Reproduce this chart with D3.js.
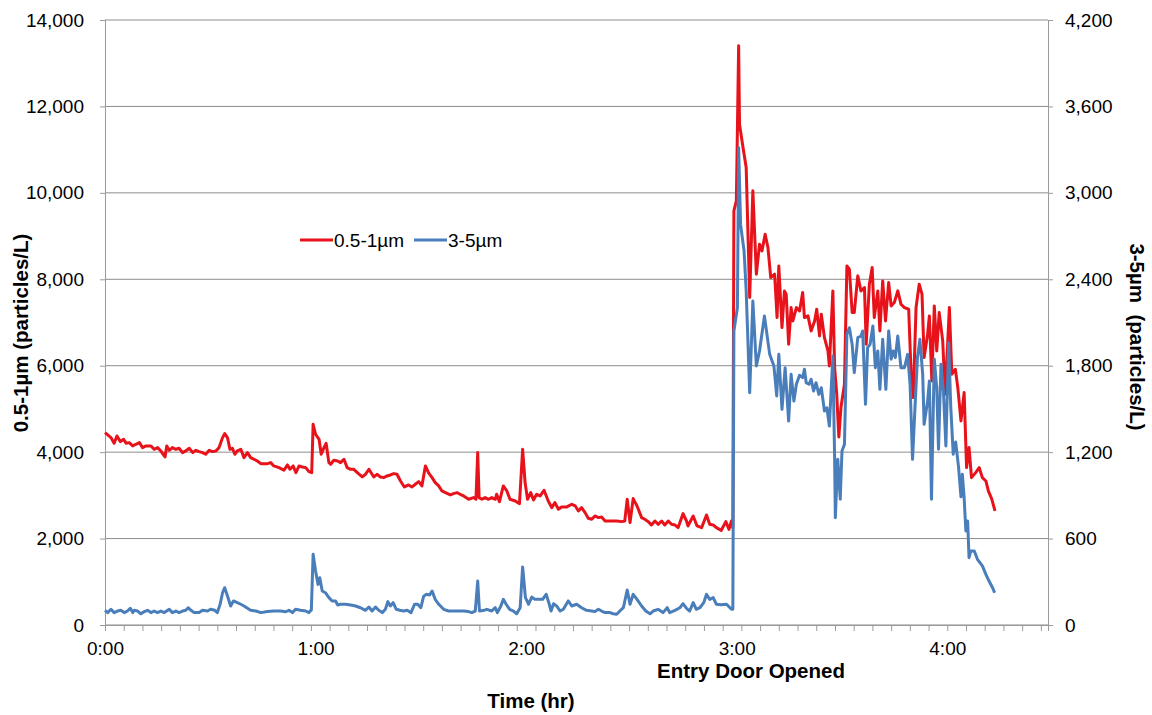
<!DOCTYPE html>
<html>
<head>
<meta charset="utf-8">
<script src="https://cdn.jsdelivr.net/npm/d3@7"></script>
<style>
  body { margin: 0; background: #fff; }
  svg { font-family: "Liberation Sans", Arial, sans-serif; }
</style>
</head>
<body>
<svg id="chart" width="1152" height="715"></svg>
<script>
// time in minutes since start, values in particles/L
const fineTimes = [0, 1.7, 2.6, 3.4, 4.4, 5.3, 6, 6.9, 7.9, 8.8, 9.8, 10.7, 11.7, 13.1, 14, 15, 15.9, 17.1, 17.6, 18.3,
  19.2, 20.2, 21.1, 22.1, 23, 24, 25, 25.9, 26.8, 27.8, 28.7, 29.7, 30.6, 31.6, 32.5, 33.5, 34.1, 34.9, 35.6, 36.3,
  37, 37.7, 38.7, 39.6, 40.6, 41.5, 42.5, 43.4, 44.4, 46.3, 47.2, 48.1, 49.6, 51, 52, 52.7, 53.6, 54.4, 55.3, 56.2,
  57.2, 58.1, 58.9, 59.3, 60, 61, 61.6, 62.4, 63, 63.8, 64.3, 65.2, 66.3, 67.1, 68.1, 69, 70, 70.9, 71.9, 73.3,
  74.2, 75.2, 76.1, 76.6, 77.5, 78.5, 79.4, 80.4, 81.3, 82.3, 83.2, 84.2, 85.3, 86.5, 87.5, 88.4, 89.4, 90.3, 91.3, 92.2,
  93.2, 94.1, 95.1, 96, 97, 98.4, 99.3, 100.3, 101.2, 102.2, 103.6, 105, 105.7, 106.2, 106.6, 107.4, 108.3, 109.3, 110.2, 111.2,
  111.6, 112.4, 113.5, 114.5, 115.4, 116.9, 118.1, 119, 119.7, 120.4, 121.3, 122.1, 123, 124, 125.1, 126.3, 127.3, 128.2, 129.2, 130.1,
  131.6, 133, 134, 134.9, 135.8, 136.8, 137.7, 138.7, 139.6, 140.6, 141.5, 142.5, 143.9, 145.8, 147.2, 148.1, 148.8, 149.6, 150.5, 151.6,
  152.9, 153.8, 154.8, 155.7, 156.7, 157.6, 158.6, 159.5, 160.5, 161.4, 162.4, 163.3, 164.7, 165.7, 166.1, 167.6, 168.7, 170, 171.4, 172.3,
  173.3, 174.2, 175.6, 176.9, 177.8, 178.5, 178.9, 179.2, 179.9, 180.55, 180.8, 181.8, 182.7, 183.7, 184.6, 185.6, 186.5, 187.2, 188.1, 188.9,
  189.7, 190.8, 191.5, 192, 192.9, 193.6, 194.1, 194.8, 195.5, 196, 197, 197.9, 198.8, 199.3, 200.3, 201.2, 202.2, 202.8, 203.6, 204.1,
  205, 206, 206.4, 207.4, 207.9, 208.5, 209.1, 209.7, 210.7, 211.4, 212.1, 212.9, 213.5, 214.5, 215.4, 216.4, 216.9, 217.8, 218.6, 219.2,
  220.2, 220.8, 221.6, 222.4, 223.3, 224, 224.9, 225.9, 226.8, 227.8, 229, 229.7, 230.3, 231.1, 232, 232.8, 233.4, 234.4, 234.9, 235.6,
  236.3, 237, 237.7, 238.7, 239.4, 240.6, 241.3, 242.3, 243, 243.9, 244.8, 245.5, 246.2, 246.9, 248.1, 249.1, 250, 251, 251.7, 252.7, 253.6];

const fineValues = [4450, 4336, 4205, 4375, 4244, 4298, 4205, 4220, 4144, 4182, 4220, 4105, 4144, 4144, 4066, 4105, 4028, 3889, 4144, 4043,
  4105, 4066, 4089, 3989, 4028, 4089, 3989, 4043, 4012, 3989, 3951, 4043, 4012, 4028, 4105, 4336, 4429, 4336, 4066, 4089,
  3951, 4028, 4066, 3873, 3989, 3873, 3835, 3796, 3734, 3734, 3758, 3681, 3642, 3580, 3704, 3603, 3681, 3526, 3681, 3657,
  3642, 3549, 3526, 4645, 4414, 4298, 3951, 4105, 4205, 3758, 3719, 3812, 3796, 3758, 3835, 3642, 3603, 3603, 3526, 3426,
  3488, 3603, 3488, 3426, 3488, 3426, 3410, 3449, 3472, 3503, 3488, 3333, 3194, 3241, 3194, 3256, 3318, 3218, 3681, 3520,
  3410, 3295, 3218, 3102, 3063, 3009, 3040, 3063, 3025, 2986, 2909, 2948, 2909, 3989, 2948, 2909, 2948, 2909, 2948, 2909,
  3025, 2855, 3218, 3102, 2909, 2870, 2809, 4066, 3295, 2909, 3063, 2894, 3025, 2986, 3118, 2870, 2716, 2832, 2678, 2732,
  2732, 2793, 2755, 2639, 2716, 2600, 2469, 2446, 2523, 2485, 2500, 2407, 2407, 2407, 2392, 2407, 2909, 2369, 2925, 2755,
  2485, 2446, 2392, 2315, 2407, 2330, 2407, 2315, 2407, 2330, 2315, 2253, 2577, 2407, 2292, 2523, 2292, 2253, 2546, 2330,
  2315, 2253, 2191, 2392, 2214, 2407, 2250, 9583, 9815, 13403, 11590, 11049, 10586, 7577, 10046, 8118, 8812, 8657, 9043, 8735,
  8040, 8118, 7114, 8310, 6883, 7731, 7655, 6497, 7345, 7037, 7345, 7268, 7693, 7114, 7153, 6806, 7037, 7307, 6690, 7191,
  6651, 6343, 5995, 7731, 5956, 5340, 4350, 5031, 5571, 8310, 8233, 7229, 7229, 8079, 7731, 7808, 6497, 7886, 8272, 7114,
  7731, 6806, 7963, 7037, 7924, 7384, 7461, 7731, 7423, 7345, 7307, 5803, 5262, 7345, 7886, 7655, 6188, 6729, 7153, 5648,
  7384, 6343, 7229, 6574, 5340, 7345, 5803, 5919, 5494, 4722, 5378, 3642, 4105, 3410, 3526, 3642, 3410, 3333, 3102, 2909, 2639];

const coarseTimes = [0, 0.76, 1.7, 2.6, 3.6, 4.5, 5.5, 6.4, 7.2, 7.9, 8.3, 9.3, 10.2, 11.2, 12.1, 13.1, 14, 15, 15.9, 16.9,
  18.3, 19.2, 20.2, 21.1, 22.1, 23, 23.7, 24.5, 25.4, 26.8, 27.8, 29.2, 30.1, 31.3, 32, 32.8, 33.5, 34.1, 34.9, 35.8,
  36.6, 37.7, 38.7, 39.6, 40.6, 41.5, 43, 44.4, 46.3, 48.1, 50, 51.5, 52.4, 53.4, 54.3, 55.7, 57.2, 58.1, 58.8, 59.3,
  60, 60.7, 61.2, 61.9, 62.8, 63.8, 64.7, 65.7, 66.3, 67.1, 68.5, 70, 71.4, 72.8, 74.2, 75.2, 76.1, 77.1, 78, 79,
  79.9, 80.6, 81.3, 82.1, 83, 84, 85.1, 86.1, 87.2, 88.2, 89.1, 90, 90.8, 91.6, 92.5, 93.2, 94.1, 95.1, 96.5, 97.9,
  99.3, 100.8, 102.2, 103.6, 104.5, 105.5, 106.2, 106.7, 107.7, 108.8, 110.2, 111.2, 111.8, 112.8, 113.5, 114.3, 115.3, 116.4, 117.3, 118.3,
  119, 119.8, 120.7, 121.6, 122.5, 123.8, 124.7, 125.7, 126.6, 127.1, 127.8, 128.7, 129.7, 130.6, 132, 133, 134.4, 135.8, 137.2, 138.7,
  139.6, 140.6, 141.5, 142.5, 143.9, 144.8, 145.8, 146.7, 147.7, 148.8, 149.6, 150.5, 151.6, 152.9, 154.1, 155.3, 156.2, 157.6, 159, 160.2,
  160.9, 162.4, 163.8, 164.7, 165.7, 166.6, 167.6, 168.5, 169.5, 170.6, 171.4, 172.3, 173.3, 174.2, 175.6, 177.1, 178.5, 178.9, 179.2, 180.2,
  180.55, 181.1, 182.1, 182.7, 183.7, 184.6, 185.6, 186.5, 187.9, 189.4, 190.6, 191.4, 192, 192.9, 193.8, 194.8, 195.5, 196.3, 197, 197.9,
  198.8, 199.3, 199.8, 200.6, 201.2, 201.9, 202.6, 203.4, 204.1, 205, 205.7, 206.4, 207.4, 207.9, 208.1, 208.8, 209.5, 210, 210.7, 211.4,
  212.1, 212.9, 213.5, 214.5, 215.4, 215.9, 216.7, 217.3, 218, 218.8, 219.5, 220.2, 220.8, 221.6, 222.5, 223.3, 224, 224.6, 225.2, 225.9,
  226.8, 227.8, 228.7, 229.4, 230.1, 230.8, 231.5, 232.2, 233, 233.4, 234.4, 234.9, 235.5, 236.3, 237, 237.5, 238.2, 238.9, 239.6, 240.4,
  241, 241.7, 242.4, 243.2, 243.9, 244.3, 244.8, 245.3, 245.8, 246.2, 246.7, 247.7, 248.6, 250, 251, 251.9, 252.9, 253.5];

const coarseValues = [102, 86, 109, 86, 97, 102, 86, 97, 116, 86, 102, 97, 78, 93, 102, 86, 97, 86, 97, 86,
  109, 86, 97, 86, 97, 102, 120, 102, 86, 86, 102, 97, 109, 102, 86, 144, 224, 259, 201, 132,
  167, 155, 144, 132, 116, 102, 97, 86, 93, 97, 97, 92, 102, 86, 109, 102, 97, 86, 105, 491,
  375, 282, 328, 236, 224, 190, 167, 167, 139, 144, 144, 139, 132, 120, 102, 125, 97, 125, 102, 86,
  109, 162, 132, 155, 109, 102, 97, 102, 86, 144, 144, 120, 200, 213, 208, 236, 178, 144, 109, 97,
  97, 97, 97, 93, 86, 97, 305, 97, 100, 109, 97, 120, 86, 132, 178, 144, 109, 97, 78, 120,
  403, 190, 144, 194, 178, 178, 178, 213, 144, 97, 148, 132, 97, 109, 167, 132, 144, 120, 102, 97,
  93, 109, 97, 86, 86, 78, 74, 97, 120, 243, 144, 213, 178, 132, 97, 78, 97, 109, 86, 120,
  86, 102, 120, 148, 116, 97, 155, 109, 120, 155, 213, 178, 190, 144, 140, 144, 109, 110, 2041, 2203,
  3314, 2781, 2596, 2319, 1613, 2249, 1798, 1902, 2145, 1879, 1798, 1590, 1879, 1497, 1786, 1416, 1740, 1555, 1671, 1734,
  1717, 1775, 1682, 1671, 1706, 1624, 1682, 1601, 1647, 1486, 1508, 1381, 1867, 1161, 745, 1150, 873, 1208, 1254, 2018,
  2064, 1948, 1752, 1995, 2006, 2041, 1532, 1925, 1948, 2076, 1786, 1902, 1636, 1983, 1636, 2041, 1845, 1902, 1856, 2006,
  1786, 1786, 1879, 1671, 1150, 1509, 1856, 1983, 1740, 1393, 1555, 1694, 873, 1845, 1647, 1220, 1810, 1624, 1243, 1960,
  1509, 1185, 1270, 1100, 890, 1046, 884, 653, 722, 467, 514, 514, 456, 410, 352, 305, 259, 224];

const seriesNames = ["0.5-1\u00b5m", "3-5\u00b5m"];
const seriesColors = ["#e8121b", "#4a7ebb"];
const hourMinutes = [0, 60, 120, 180, 240];
const hourLabels = ["0:00", "1:00", "2:00", "3:00", "4:00"];
const leftTicks = [0, 2000, 4000, 6000, 8000, 10000, 12000, 14000];
const rightTicks = [0, 600, 1200, 1800, 2400, 3000, 3600, 4200];

if (fineTimes.length !== fineValues.length || coarseTimes.length !== coarseValues.length) {
    throw new Error(`length mismatch fine ${fineTimes.length}/${fineValues.length} coarse ${coarseTimes.length}/${coarseValues.length}`);
}

const fine = fineTimes.map((t, i) => ({ t: t, v: fineValues[i] }));
const coarse = coarseTimes.map((t, i) => ({ t: t, v: coarseValues[i] }));

// plot box
const plotLeft = 105, plotRight = 1048, plotTop = 20, plotBottom = 625;
const svg = d3.select("#chart");

const x = d3.scaleLinear().domain([0, 268.7]).range([plotLeft, plotRight]);
const yL = d3.scaleLinear().domain([0, 14000]).range([plotBottom, plotTop]);
const yR = d3.scaleLinear().domain([0, 4200]).range([plotBottom, plotTop]);

// gridlines
svg.append("g")
    .selectAll("line")
    .data(leftTicks)
    .enter().append("line")
    .attr("x1", plotLeft).attr("x2", plotRight)
    .attr("y1", d => yL(d)).attr("y2", d => yL(d))
    .attr("stroke", "#8c8c8c")
    .attr("stroke-width", 1);

// left axis
const gL = svg.append("g")
    .attr("transform", `translate(${plotLeft},0)`)
    .call(d3.axisLeft(yL).tickValues(leftTicks).tickSize(5).tickPadding(16)
        .tickFormat(d3.format(",")));
gL.selectAll("text").attr("font-size", "19px").attr("fill", "#000");

// right axis
const gR = svg.append("g")
    .attr("transform", `translate(${plotRight},0)`)
    .call(d3.axisRight(yR).tickValues(rightTicks).tickSize(5).tickPadding(12)
        .tickFormat(d3.format(",")));
gR.selectAll("text").attr("font-size", "19px").attr("fill", "#000");

// bottom axis: minor ticks then hour labels
svg.append("g")
    .attr("transform", `translate(0,${plotBottom})`)
    .call(d3.axisBottom(x).tickValues(d3.range(0, 268.7, 16 / 3)).tickSize(6).tickFormat(""));

const gXL = svg.append("g")
    .attr("transform", `translate(0,${plotBottom})`)
    .call(d3.axisBottom(x).tickValues(hourMinutes).tickSize(0).tickPadding(17)
        .tickFormat((d, i) => hourLabels[i]));
gXL.select(".domain").remove();
gXL.selectAll("text").attr("font-size", "19px").attr("fill", "#000");

svg.selectAll(".domain, .tick line").attr("stroke", "#9a9a9a");

// series lines (blue on top, on the secondary axis)
svg.append("path")
    .datum(fine)
    .attr("fill", "none")
    .attr("stroke", seriesColors[0])
    .attr("stroke-width", 3)
    .attr("stroke-linejoin", "round")
    .attr("d", d3.line().x(d => x(d.t)).y(d => yL(d.v)));

svg.append("path")
    .datum(coarse)
    .attr("fill", "none")
    .attr("stroke", seriesColors[1])
    .attr("stroke-width", 3)
    .attr("stroke-linejoin", "round")
    .attr("d", d3.line().x(d => x(d.t)).y(d => yR(d.v)));

// legend
const legendX = [300, 414];
seriesNames.forEach((name, i) => {
    svg.append("line")
        .attr("x1", legendX[i]).attr("x2", legendX[i] + 33)
        .attr("y1", 240).attr("y2", 240)
        .attr("stroke", seriesColors[i])
        .attr("stroke-width", 3);
    svg.append("text")
        .attr("x", legendX[i] + 34).attr("y", 247)
        .attr("font-size", "19px")
        .text(name);
});

// axis titles
svg.append("text")
    .attr("transform", "translate(28,333) rotate(-90)")
    .attr("text-anchor", "middle")
    .attr("font-size", "20.5px").attr("font-weight", "bold")
    .text("0.5-1\u00b5m (particles/L)");

svg.append("text")
    .attr("transform", "translate(1130,337) rotate(90)")
    .attr("text-anchor", "middle")
    .attr("font-size", "20.5px").attr("font-weight", "bold")
    .style("white-space", "pre")
    .text("3-5\u00b5m  (particles/L)");

svg.append("text")
    .attr("x", 751).attr("y", 678)
    .attr("text-anchor", "middle")
    .attr("font-size", "20.5px").attr("font-weight", "bold")
    .text("Entry Door Opened");

svg.append("text")
    .attr("x", 531).attr("y", 708)
    .attr("text-anchor", "middle")
    .attr("font-size", "20.5px").attr("font-weight", "bold")
    .text("Time (hr)");
</script>
</body>
</html>
